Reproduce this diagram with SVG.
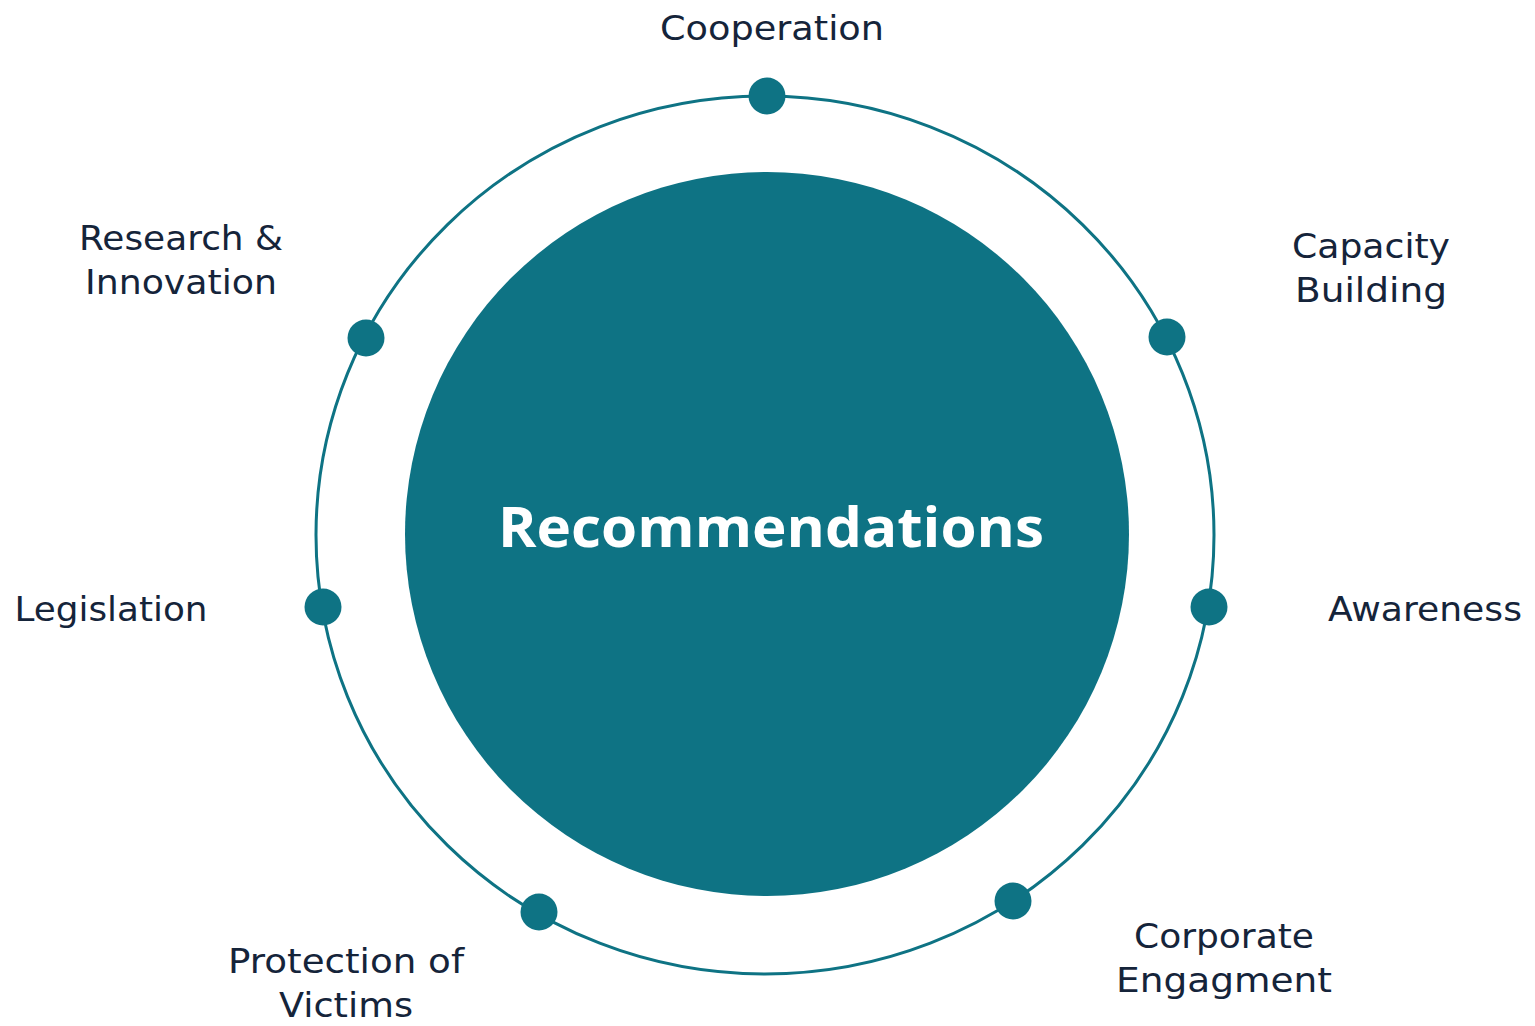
<svg xmlns="http://www.w3.org/2000/svg" width="1535" height="1026" viewBox="0 0 1535 1026">
<style>
.lbl{font-family:"DejaVu Sans","Liberation Sans",sans-serif;font-size:33px;fill:#15243a;text-anchor:middle}
.dot{fill:#0e7384}
</style>
<rect width="1535" height="1026" fill="#ffffff"/>
<g id="connectors">
<ellipse cx="765" cy="535" rx="449" ry="439" fill="none" stroke="#0e7384" stroke-width="3"/>
</g>
<g id="center">
<circle cx="767" cy="534" r="362" fill="#0e7384"/>
<text x="771" y="547" font-family="Open Sans, Liberation Sans, sans-serif" font-size="56" font-weight="bold" fill="#ffffff" text-anchor="middle" textLength="546" lengthAdjust="spacingAndGlyphs">Recommendations</text>
</g>
<g id="cooperation"><circle class="dot" cx="767" cy="96" r="18.5"/><text class="lbl" x="772" y="40" textLength="224" lengthAdjust="spacingAndGlyphs">Cooperation</text></g>
<g id="capacity"><circle class="dot" cx="1167" cy="337" r="18.5"/><text class="lbl" x="1371" y="258" textLength="158" lengthAdjust="spacingAndGlyphs">Capacity</text><text class="lbl" x="1371" y="302" textLength="152" lengthAdjust="spacingAndGlyphs">Building</text></g>
<g id="awareness"><circle class="dot" cx="1209" cy="607" r="18.5"/><text class="lbl" x="1425" y="621" textLength="194" lengthAdjust="spacingAndGlyphs">Awareness</text></g>
<g id="corporate"><circle class="dot" cx="1013" cy="901" r="18.5"/><text class="lbl" x="1224" y="948" textLength="180" lengthAdjust="spacingAndGlyphs">Corporate</text><text class="lbl" x="1224" y="992" textLength="216" lengthAdjust="spacingAndGlyphs">Engagment</text></g>
<g id="protection"><circle class="dot" cx="539" cy="912" r="18.5"/><text class="lbl" x="346" y="973" textLength="236" lengthAdjust="spacingAndGlyphs">Protection of</text><text class="lbl" x="346" y="1017" textLength="134" lengthAdjust="spacingAndGlyphs">Victims</text></g>
<g id="legislation"><circle class="dot" cx="323" cy="607" r="18.5"/><text class="lbl" x="111" y="621" textLength="193" lengthAdjust="spacingAndGlyphs">Legislation</text></g>
<g id="research"><circle class="dot" cx="366" cy="338" r="18.5"/><text class="lbl" x="181" y="250" textLength="204" lengthAdjust="spacingAndGlyphs">Research &amp;</text><text class="lbl" x="181" y="294" textLength="192" lengthAdjust="spacingAndGlyphs">Innovation</text></g>
</svg>
